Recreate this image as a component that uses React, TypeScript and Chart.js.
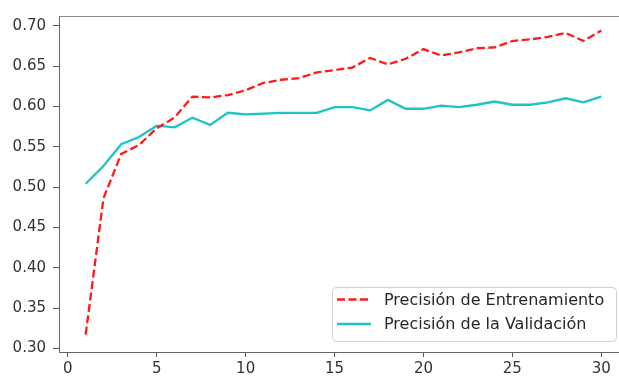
import React, { useEffect, useRef } from "react";
import { Chart, registerables } from "chart.js";

Chart.register(...registerables);

const epochs = [1, 2, 3, 4, 5, 6, 7, 8, 9, 10, 11, 12, 13, 14, 15, 16, 17, 18, 19, 20, 21, 22, 23, 24, 25, 26, 27, 28, 29, 30];
const trainAcc = [0.317, 0.486, 0.541, 0.552, 0.573, 0.586, 0.612, 0.611, 0.614, 0.620, 0.629, 0.633, 0.635, 0.642, 0.645, 0.648, 0.660, 0.652, 0.659, 0.671, 0.663, 0.667, 0.672, 0.673, 0.681, 0.683, 0.686, 0.691, 0.681, 0.694];
const valAcc = [0.504, 0.526, 0.553, 0.562, 0.576, 0.574, 0.586, 0.577, 0.592, 0.590, 0.591, 0.592, 0.592, 0.592, 0.599, 0.599, 0.595, 0.608, 0.597, 0.597, 0.601, 0.599, 0.602, 0.606, 0.602, 0.602, 0.605, 0.610, 0.605, 0.612];
const xTicks = [0, 5, 10, 15, 20, 25, 30];
const yTicks = [0.3, 0.35, 0.4, 0.45, 0.5, 0.55, 0.6, 0.65, 0.7];
const seriesLabels = ["Precisión de Entrenamiento", "Precisión de la Validación"];

const FONT = "DejaVu Sans";

const topSpinePlugin = {
  id: "topSpine",
  afterDraw(chart: any) {
    const { ctx, chartArea } = chart;
    ctx.save();
    ctx.strokeStyle = "#888";
    ctx.lineWidth = 1;
    ctx.beginPath();
    ctx.moveTo(chartArea.left, chartArea.top + 0.5);
    ctx.lineTo(chartArea.right, chartArea.top + 0.5);
    ctx.stroke();
    ctx.restore();
  },
};

const legendPlugin = {
  id: "boxLegend",
  afterDatasetsDraw(chart: any) {
    const ctx = chart.ctx;
    const x = 332.5, y = 287.5, w = 284, h = 54, r = 4;
    ctx.save();
    ctx.beginPath();
    ctx.moveTo(x + r, y);
    ctx.lineTo(x + w - r, y);
    ctx.quadraticCurveTo(x + w, y, x + w, y + r);
    ctx.lineTo(x + w, y + h - r);
    ctx.quadraticCurveTo(x + w, y + h, x + w - r, y + h);
    ctx.lineTo(x + r, y + h);
    ctx.quadraticCurveTo(x, y + h, x, y + h - r);
    ctx.lineTo(x, y + r);
    ctx.quadraticCurveTo(x, y, x + r, y);
    ctx.closePath();
    ctx.fillStyle = "rgba(255,255,255,0.85)";
    ctx.fill();
    ctx.strokeStyle = "#d0d0d0";
    ctx.lineWidth = 1;
    ctx.stroke();
    const rows = [299.5, 324];
    chart.data.datasets.forEach((ds: any, i: number) => {
      const ry = rows[i];
      ctx.beginPath();
      ctx.setLineDash(ds.borderDash || []);
      ctx.strokeStyle = ds.borderColor;
      ctx.lineWidth = ds.borderWidth;
      ctx.moveTo(337, ry);
      ctx.lineTo(371, ry);
      ctx.stroke();
      ctx.setLineDash([]);
      ctx.fillStyle = "#262626";
      ctx.font = `16px "${FONT}"`;
      ctx.textBaseline = "middle";
      ctx.textAlign = "left";
      ctx.fillText(ds.label, 384, ry + 1);
    });
    ctx.restore();
  },
};

export default function App() {
  const ref = useRef<HTMLCanvasElement>(null);
  useEffect(() => {
    document.body.style.margin = "0";
    const chart = new Chart(ref.current!, {
      type: "line",
      data: {
        datasets: [
          {
            label: seriesLabels[0],
            data: epochs.map((e, i) => ({ x: e, y: trainAcc[i] })),
            borderColor: "#ff1a1a",
            borderWidth: 2.3,
            borderDash: [8, 3.5],
            pointRadius: 0,
            tension: 0,
            fill: false,
          },
          {
            label: seriesLabels[1],
            data: epochs.map((e, i) => ({ x: e, y: valAcc[i] })),
            borderColor: "#1cc4c4",
            borderWidth: 2.3,
            pointRadius: 0,
            tension: 0,
            fill: false,
          },
        ],
      },
      options: {
        animation: false,
        responsive: false,
        devicePixelRatio: 1,
        layout: { padding: { top: 8, left: 0, right: 0, bottom: 0 } },
        plugins: { legend: { display: false }, tooltip: { enabled: false } },
        scales: {
          x: {
            type: "linear",
            min: -0.5,
            max: 31.0,
            afterBuildTicks: (axis: any) => {
              axis.ticks = xTicks.map((v) => ({ value: v }));
            },
            afterFit: (axis: any) => {
              axis.height = 29;
            },
            grid: { display: true, drawOnChartArea: false, drawTicks: true, tickLength: 5, color: "#555", tickWidth: 1 },
            border: { display: true, color: "#666", width: 1 },
            ticks: {
              font: { family: FONT, size: 15 },
              color: "#333",
              padding: 3,
              maxRotation: 0,
              autoSkip: false,
              callback: (v: any) => String(v),
            },
          },
          y: {
            type: "linear",
            min: 0.2955,
            max: 0.712,
            afterBuildTicks: (axis: any) => {
              axis.ticks = yTicks.map((v) => ({ value: v }));
            },
            afterFit: (axis: any) => {
              axis.width = 59;
            },
            grid: { display: true, drawOnChartArea: false, drawTicks: true, tickLength: 6, color: "#555", tickWidth: 1 },
            border: { display: true, color: "#666", width: 1 },
            ticks: {
              font: { family: FONT, size: 15 },
              color: "#333",
              padding: 7,
              autoSkip: false,
              callback: (v: any) => Number(v).toFixed(2),
            },
          },
        },
      },
      plugins: [topSpinePlugin, legendPlugin],
    });
    return () => chart.destroy();
  }, []);
  return (
    <div style={{ position: "fixed", left: 0, top: 0, width: 619, height: 381, background: "#fff" }}>
      <canvas ref={ref} width={619} height={381} style={{ display: "block" }} />
    </div>
  );
}
